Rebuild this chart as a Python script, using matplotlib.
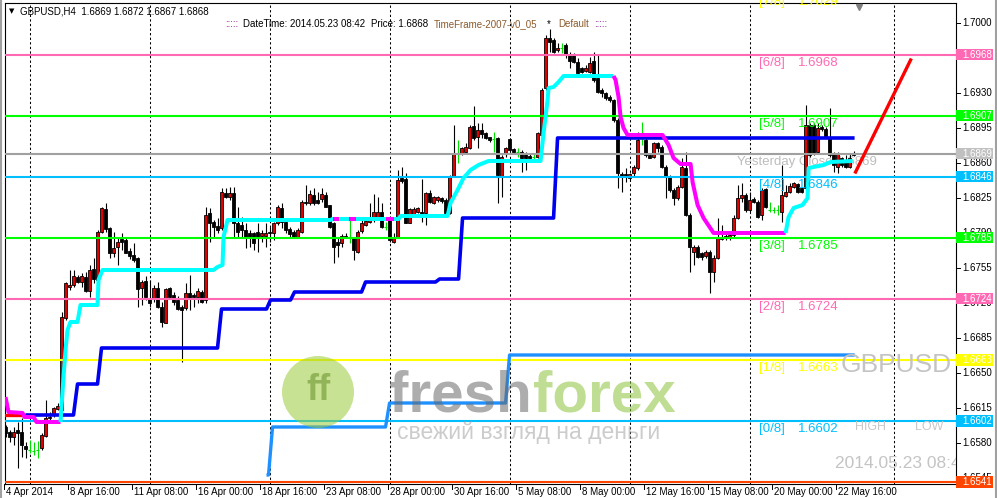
import matplotlib
matplotlib.use('Agg')
import matplotlib.pyplot as plt
from matplotlib.patches import Rectangle, Ellipse

plt.rcParams['font.family'] = ['Liberation Sans', 'DejaVu Sans']

W, H = 997, 498

# GBPUSD H4 candles (213 bars, 4 Apr - 23 May 2014)
opens = [
    1.6596, 1.6591, 1.6586, 1.6593, 1.6591, 1.6577, 1.6573, 1.6572, 1.6573, 1.6575,
    1.6587, 1.6605, 1.6608, 1.6614, 1.6613, 1.6705, 1.6736, 1.6738, 1.6746, 1.6741,
    1.6746, 1.6732, 1.6754, 1.6743, 1.6791, 1.6814, 1.6795, 1.6770, 1.6776, 1.6784,
    1.6783, 1.6772, 1.6768, 1.6765, 1.6735, 1.6742, 1.6725, 1.6725, 1.6735, 1.6716,
    1.6700, 1.6735, 1.6728, 1.6723, 1.6716, 1.6715, 1.6730, 1.6728, 1.6726, 1.6731,
    1.6723, 1.6810, 1.6801, 1.6797, 1.6795, 1.6830, 1.6826, 1.6830, 1.6800, 1.6798,
    1.6793, 1.6790, 1.6790, 1.6791, 1.6787, 1.6787, 1.6791, 1.6790, 1.6800, 1.6815,
    1.6801, 1.6794, 1.6791, 1.6786, 1.6791, 1.6821, 1.6820, 1.6828, 1.6823, 1.6824,
    1.6828, 1.6818, 1.6800, 1.6781, 1.6780, 1.6787, 1.6786, 1.6785, 1.6771, 1.6792,
    1.6798, 1.6801, 1.6803, 1.6805, 1.6811, 1.6796, 1.6803, 1.6781, 1.6786, 1.6845,
    1.6844, 1.6800, 1.6809, 1.6811, 1.6811, 1.6810, 1.6830, 1.6820, 1.6823, 1.6825,
    1.6823, 1.6810, 1.6847, 1.6870, 1.6869, 1.6871, 1.6875, 1.6897, 1.6886, 1.6893,
    1.6890, 1.6886, 1.6884, 1.6885, 1.6847, 1.6869, 1.6884, 1.6874, 1.6871, 1.6871,
    1.6870, 1.6867, 1.6866, 1.6866, 1.6888, 1.6935, 1.6985, 1.6983, 1.6973, 1.6975,
    1.6978, 1.6968, 1.6968, 1.6961, 1.6955, 1.6952, 1.6951, 1.6962, 1.6945, 1.6933,
    1.6930, 1.6926, 1.6923, 1.6903, 1.6849, 1.6849, 1.6845, 1.6850, 1.6855, 1.6888,
    1.6883, 1.6868, 1.6866, 1.6880, 1.6876, 1.6856, 1.6846, 1.6833, 1.6825, 1.6836,
    1.6855, 1.6808, 1.6771, 1.6776, 1.6770, 1.6767, 1.6771, 1.6751, 1.6765, 1.6784,
    1.6787, 1.6785, 1.6788, 1.6805, 1.6825, 1.6828, 1.6813, 1.6824, 1.6821, 1.6808,
    1.6834, 1.6813, 1.6813, 1.6813, 1.6811, 1.6827, 1.6831, 1.6836, 1.6839, 1.6835,
    1.6835, 1.6898, 1.6898, 1.6871, 1.6896, 1.6894, 1.6885, 1.6870, 1.6856, 1.6865,
    1.6863, 1.6856, 1.6869]
highs = [
    1.6598, 1.6593, 1.6596, 1.6601, 1.6605, 1.6581, 1.6583, 1.6581, 1.6582, 1.6590,
    1.6623, 1.6611, 1.6616, 1.6620, 1.6711, 1.6741, 1.6753, 1.6753, 1.6748, 1.6750,
    1.6751, 1.6758, 1.6765, 1.6793, 1.6816, 1.6820, 1.6796, 1.6791, 1.6785, 1.6790,
    1.6785, 1.6775, 1.6780, 1.6766, 1.6743, 1.6747, 1.6743, 1.6738, 1.6741, 1.6721,
    1.6735, 1.6736, 1.6731, 1.6727, 1.6718, 1.6740, 1.6748, 1.6730, 1.6735, 1.6733,
    1.6816, 1.6815, 1.6803, 1.6805, 1.6835, 1.6835, 1.6836, 1.6836, 1.6816, 1.6806,
    1.6800, 1.6793, 1.6791, 1.6800, 1.6793, 1.6800, 1.6796, 1.6801, 1.6818, 1.6820,
    1.6803, 1.6796, 1.6793, 1.6795, 1.6823, 1.6838, 1.6833, 1.6835, 1.6831, 1.6835,
    1.6831, 1.6818, 1.6801, 1.6786, 1.6789, 1.6790, 1.6803, 1.6786, 1.6793, 1.6803,
    1.6805, 1.6820, 1.6829, 1.6826, 1.6820, 1.6801, 1.6805, 1.6790, 1.6853, 1.6856,
    1.6850, 1.6815, 1.6816, 1.6816, 1.6844, 1.6831, 1.6833, 1.6827, 1.6827, 1.6826,
    1.6825, 1.6848, 1.6898, 1.6883, 1.6876, 1.6880, 1.6898, 1.6917, 1.6900, 1.6900,
    1.6891, 1.6886, 1.6891, 1.6886, 1.6868, 1.6876, 1.6885, 1.6875, 1.6875, 1.6873,
    1.6871, 1.6869, 1.6869, 1.6891, 1.6935, 1.6988, 1.6994, 1.6985, 1.6980, 1.6980,
    1.6980, 1.6971, 1.6970, 1.6965, 1.6956, 1.6958, 1.6966, 1.6971, 1.6968, 1.6935,
    1.6931, 1.6928, 1.6924, 1.6905, 1.6851, 1.6855, 1.6850, 1.6858, 1.6891, 1.6901,
    1.6885, 1.6870, 1.6881, 1.6881, 1.6878, 1.6858, 1.6848, 1.6835, 1.6838, 1.6865,
    1.6871, 1.6810, 1.6778, 1.6778, 1.6771, 1.6773, 1.6773, 1.6768, 1.6805, 1.6798,
    1.6790, 1.6790, 1.6808, 1.6838, 1.6840, 1.6830, 1.6831, 1.6826, 1.6823, 1.6835,
    1.6835, 1.6821, 1.6816, 1.6818, 1.6858, 1.6838, 1.6840, 1.6841, 1.6840, 1.6836,
    1.6918, 1.6900, 1.6900, 1.6900, 1.6898, 1.6896, 1.6915, 1.6871, 1.6871, 1.6866,
    1.6868, 1.6870, 1.6872]
lows = [
    1.6586, 1.6581, 1.6578, 1.6555, 1.6566, 1.6565, 1.6570, 1.6568, 1.6565, 1.6573,
    1.6586, 1.6603, 1.6606, 1.6613, 1.6611, 1.6703, 1.6733, 1.6736, 1.6740, 1.6736,
    1.6731, 1.6726, 1.6740, 1.6730, 1.6790, 1.6791, 1.6765, 1.6766, 1.6758, 1.6773,
    1.6770, 1.6764, 1.6761, 1.6716, 1.6718, 1.6723, 1.6716, 1.6721, 1.6715, 1.6696,
    1.6700, 1.6725, 1.6718, 1.6713, 1.6661, 1.6713, 1.6713, 1.6716, 1.6720, 1.6720,
    1.6720, 1.6781, 1.6786, 1.6790, 1.6793, 1.6825, 1.6823, 1.6786, 1.6786, 1.6786,
    1.6775, 1.6776, 1.6773, 1.6771, 1.6781, 1.6776, 1.6781, 1.6783, 1.6798, 1.6795,
    1.6790, 1.6786, 1.6785, 1.6785, 1.6790, 1.6818, 1.6818, 1.6818, 1.6819, 1.6821,
    1.6816, 1.6795, 1.6760, 1.6766, 1.6776, 1.6785, 1.6780, 1.6763, 1.6770, 1.6790,
    1.6797, 1.6800, 1.6801, 1.6803, 1.6795, 1.6793, 1.6781, 1.6780, 1.6785, 1.6840,
    1.6800, 1.6800, 1.6807, 1.6810, 1.6801, 1.6798, 1.6820, 1.6819, 1.6821, 1.6820,
    1.6809, 1.6809, 1.6846, 1.6860, 1.6868, 1.6870, 1.6874, 1.6883, 1.6875, 1.6885,
    1.6884, 1.6881, 1.6871, 1.6820, 1.6826, 1.6866, 1.6871, 1.6870, 1.6866, 1.6851,
    1.6853, 1.6863, 1.6861, 1.6865, 1.6886, 1.6933, 1.6971, 1.6970, 1.6971, 1.6970,
    1.6965, 1.6955, 1.6960, 1.6948, 1.6950, 1.6951, 1.6950, 1.6941, 1.6930, 1.6926,
    1.6923, 1.6921, 1.6901, 1.6835, 1.6831, 1.6841, 1.6843, 1.6846, 1.6853, 1.6878,
    1.6866, 1.6865, 1.6865, 1.6871, 1.6855, 1.6825, 1.6831, 1.6818, 1.6823, 1.6835,
    1.6807, 1.6751, 1.6758, 1.6765, 1.6763, 1.6765, 1.6730, 1.6741, 1.6764, 1.6783,
    1.6783, 1.6783, 1.6785, 1.6804, 1.6821, 1.6811, 1.6811, 1.6820, 1.6805, 1.6803,
    1.6815, 1.6811, 1.6810, 1.6808, 1.6801, 1.6826, 1.6830, 1.6835, 1.6830, 1.6830,
    1.6833, 1.6866, 1.6868, 1.6870, 1.6892, 1.6885, 1.6866, 1.6851, 1.6850, 1.6856,
    1.6855, 1.6855, 1.6867]
closes = [
    1.6590, 1.6586, 1.6591, 1.6590, 1.6578, 1.6574, 1.6573, 1.6572, 1.6573, 1.6588,
    1.6605, 1.6606, 1.6615, 1.6617, 1.6706, 1.6740, 1.6738, 1.6747, 1.6741, 1.6747,
    1.6732, 1.6753, 1.6744, 1.6791, 1.6815, 1.6794, 1.6770, 1.6775, 1.6781, 1.6781,
    1.6770, 1.6767, 1.6763, 1.6734, 1.6741, 1.6726, 1.6720, 1.6735, 1.6716, 1.6701,
    1.6734, 1.6726, 1.6721, 1.6714, 1.6713, 1.6730, 1.6725, 1.6726, 1.6732, 1.6721,
    1.6808, 1.6800, 1.6796, 1.6793, 1.6831, 1.6826, 1.6830, 1.6800, 1.6791, 1.6793,
    1.6786, 1.6785, 1.6780, 1.6786, 1.6790, 1.6790, 1.6790, 1.6800, 1.6816, 1.6801,
    1.6793, 1.6789, 1.6786, 1.6793, 1.6821, 1.6820, 1.6829, 1.6820, 1.6820, 1.6829,
    1.6816, 1.6796, 1.6776, 1.6778, 1.6787, 1.6786, 1.6786, 1.6773, 1.6791, 1.6800,
    1.6802, 1.6805, 1.6811, 1.6811, 1.6796, 1.6796, 1.6783, 1.6786, 1.6843, 1.6842,
    1.6800, 1.6814, 1.6814, 1.6815, 1.6806, 1.6830, 1.6821, 1.6826, 1.6826, 1.6822,
    1.6810, 1.6847, 1.6870, 1.6870, 1.6875, 1.6876, 1.6896, 1.6885, 1.6893, 1.6889,
    1.6885, 1.6883, 1.6884, 1.6848, 1.6866, 1.6875, 1.6873, 1.6871, 1.6871, 1.6865,
    1.6865, 1.6865, 1.6866, 1.6890, 1.6933, 1.6985, 1.6981, 1.6971, 1.6975, 1.6975,
    1.6968, 1.6962, 1.6961, 1.6950, 1.6951, 1.6955, 1.6960, 1.6943, 1.6931, 1.6930,
    1.6925, 1.6923, 1.6903, 1.6850, 1.6846, 1.6846, 1.6849, 1.6856, 1.6883, 1.6888,
    1.6868, 1.6865, 1.6880, 1.6875, 1.6856, 1.6846, 1.6833, 1.6825, 1.6836, 1.6856,
    1.6808, 1.6776, 1.6776, 1.6766, 1.6766, 1.6771, 1.6751, 1.6765, 1.6785, 1.6786,
    1.6785, 1.6788, 1.6805, 1.6825, 1.6828, 1.6813, 1.6823, 1.6821, 1.6806, 1.6833,
    1.6816, 1.6813, 1.6813, 1.6813, 1.6828, 1.6831, 1.6837, 1.6840, 1.6831, 1.6831,
    1.6898, 1.6868, 1.6870, 1.6895, 1.6894, 1.6886, 1.6868, 1.6858, 1.6870, 1.6858,
    1.6856, 1.6865, 1.6868]

# Murrey math levels
level_names = ['[-1/8]', '[0/8]', '[1/8]', '[2/8]', '[3/8]', '[4/8]', '[5/8]', '[6/8]', '[7/8]']
level_values = [1.6541, 1.6602, 1.6663, 1.6724, 1.6785, 1.6846, 1.6907, 1.6968, 1.7029]
level_colors = ['#FF4500', '#00BFFF', '#FFFF00', '#FF69B4', '#00FF00',
                '#00BFFF', '#00FF00', '#FF69B4', '#FFFF00']
yesterday_close = 1.6869

# trend line (cyan = up, magenta = down), vertices as (bar, price)
down1_bars = [0, 0.75, 4.25, 4.75, 7, 7.75, 13.25, 13.75]
down1_vals = [1.6626, 1.6611, 1.6610, 1.6606, 1.6606, 1.6601, 1.6601, 1.6601]
up1_bars = [13.75, 14.5, 15, 15.5, 16.25, 18, 18.75, 23, 23.25, 24.25, 52, 53, 54.25, 54.5,
            55.5, 81.25, 81.75, 98.25, 98.75, 110.5, 111.25, 113, 114.5, 116.25, 118.25,
            120.75, 133.75, 134.5, 135.5, 135.75, 137, 138.25, 139.5, 152]
up1_vals = [1.6601, 1.6646, 1.6673, 1.6693, 1.6701, 1.6701, 1.6718, 1.6718, 1.6743, 1.6753,
            1.6753, 1.6756, 1.6758, 1.6786, 1.6803, 1.6803, 1.6804, 1.6804, 1.6807, 1.6807,
            1.6820, 1.6833, 1.6845, 1.6853, 1.6858, 1.6862, 1.6862, 1.6890, 1.6923, 1.6935,
            1.6936, 1.6941, 1.6947, 1.6947]
down2_bars = [152, 152.5, 153.25, 153.75, 154.5, 155.5, 164.25, 165.75, 167, 168.75,
              171.25, 171.75, 173, 174.5, 177, 195]
down2_vals = [1.6947, 1.6943, 1.6926, 1.6906, 1.6895, 1.6888, 1.6888, 1.6878, 1.6865, 1.6859,
              1.6859, 1.6841, 1.6818, 1.6805, 1.6790, 1.6790]
up2_bars = [195, 195.75, 197, 199.25, 200.5, 200.75, 202, 204.5, 206.25, 211.75]
up2_vals = [1.6790, 1.6806, 1.6815, 1.6818, 1.6825, 1.6855, 1.6856, 1.6858, 1.6861, 1.6862]
flicker_spans = [(81.75, 83.25), (85.75, 87.5), (95, 97)]
flicker_val = 1.6804

# stepped support lines: ramp start bar and new level
red_start = (0, 5, 1.6608)
blue_bars = [5, 17, 23, 53, 65.25, 71.25, 89, 107.5, 113.25, 137]
blue_vals = [1.6608, 1.6639, 1.6675, 1.6714, 1.6723, 1.6731, 1.6741, 1.6744, 1.6805, 1.6885]
dodger_bars = [65.25, 65.75, 95, 125]
dodger_vals = [1.6548, 1.6596, 1.6620, 1.6668]
lines_end = 212.25

arrow_bars = [212.5, 226.25]
arrow_vals = [1.6851, 1.6963]

x_label_bars = [0, 16, 32, 48, 64, 80, 96, 112, 128, 144, 160, 176, 192, 208]
x_labels = ['4 Apr 2014', '8 Apr 16:00', '11 Apr 08:00', '16 Apr 00:00', '18 Apr 16:00',
            '23 Apr 08:00', '28 Apr 00:00', '30 Apr 16:00', '5 May 08:00', '8 May 00:00',
            '12 May 16:00', '15 May 08:00', '20 May 00:00', '22 May 16:00']
grid_bars = [6, 36, 66, 96, 126, 156, 186, 222]
# 1.6965 sits fully under the 1.6968 level box, so it is left out
price_ticks = [1.7000, 1.6930, 1.6895, 1.6860, 1.6825, 1.6790, 1.6755, 1.6720,
               1.6685, 1.6650, 1.6615, 1.6580, 1.6545]


def fx(px):
    return px / W


def fy(py):
    return 1 - py / H


def ramp_steps(bars, vals, end):
    xs, ys = [bars[0]], [vals[0]]
    for i in range(1, len(bars)):
        xs += [bars[i], bars[i] + 1]
        ys += [vals[i - 1], vals[i]]
    xs.append(end)
    ys.append(vals[-1])
    return xs, ys


fig = plt.figure(figsize=(W / 100, H / 100), dpi=100)
fig.patch.set_facecolor('white')
ax = fig.add_axes([fx(5), fy(484), 951 / W, 481 / H])
ax.set_xlim(-0.125, 237.6)
ax.set_ylim(1.6539, 1.7020)
ax.set_xticks([])
ax.set_yticks([])
for s in ax.spines.values():
    s.set_linewidth(0.8)
    s.set_color('black')

# vertical dotted grid
for b in grid_bars:
    ax.axvline(b, color='black', lw=0.75, ls=(0, (2.2, 2.2)), zorder=1)

# watermark
fig.patches.append(Ellipse((fx(318), fy(392)), 72 / W, 72 / H, transform=fig.transFigure,
                           fc='#9CCB3B', ec='none', alpha=0.55, zorder=0))
fig.text(fx(318), fy(390), 'ff', color='#4E7D12', alpha=0.45, fontsize=26,
         fontweight='bold', ha='center', va='center', zorder=0.5)
fig.text(fx(389), fy(396), 'fresh', color='#6A6A6A', alpha=0.55, fontsize=42,
         fontweight='bold', ha='left', va='center', zorder=0.5)
fig.text(fx(533), fy(396), 'forex', color='#8CC43C', alpha=0.55, fontsize=42,
         fontweight='bold', ha='left', va='center', zorder=0.5)
fig.text(fx(397), fy(432), 'свежий взгляд на деньги', color='#9A9A9A', alpha=0.5,
         fontsize=16.5, ha='left', va='center', zorder=0.5)

# levels
for val, col in zip(level_values, level_colors):
    ax.axhline(val, color=col, lw=1.5, zorder=3)
ax.axhline(yesterday_close, color='#A0A0A0', lw=1.5, zorder=3)

# candles
for i in range(len(opens)):
    o, h, l, c = opens[i], highs[i], lows[i], closes[i]
    if o == c:
        ax.vlines(i, l, h, color='#00E000', lw=0.8, zorder=2)
        ax.hlines(c, i - 0.45, i + 0.45, color='#00E000', lw=0.8, zorder=2)
        continue
    ax.vlines(i, l, h, color='black', lw=0.8, zorder=2)
    fc = '#E00000' if c > o else 'black'
    ax.add_patch(Rectangle((i - 0.38, min(o, c)), 0.76, abs(c - o), fc=fc, ec='black',
                           lw=0.6, zorder=2.5))

# stepped lines
ax.plot([red_start[0], red_start[1]], [red_start[2], red_start[2]], color='#FF0000',
        lw=2.4, zorder=4)
bx, by = ramp_steps(blue_bars, blue_vals, lines_end)
ax.plot(bx, by, color='#0000F0', lw=2.6, zorder=4, solid_capstyle='butt')
dx, dy = ramp_steps(dodger_bars, dodger_vals, lines_end)
ax.plot(dx, dy, color='#1E90FF', lw=2.4, zorder=4, solid_capstyle='butt')

# trend line
for bars, vals, col in [(down1_bars, down1_vals, '#FF00FF'), (up1_bars, up1_vals, '#00FFFF'),
                        (down2_bars, down2_vals, '#FF00FF'), (up2_bars, up2_vals, '#00FFFF')]:
    ax.plot(bars, vals, color=col, lw=2.9, zorder=4.5, solid_capstyle='butt')
for a, b in flicker_spans:
    ax.plot([a, b], [flicker_val, flicker_val], color='#FF00FF', lw=2.9, zorder=4.6,
            solid_capstyle='butt')

# red arrow line
ax.plot(arrow_bars, arrow_vals, color='#FF0000', lw=2.4, zorder=4)
ax.plot([213.25], [1.7016], marker='v', color='#7F7F7F', ms=5, zorder=5, clip_on=False)

# level captions
for name, val, col in zip(level_names[1:], level_values[1:], level_colors[1:]):
    ax.text(188.4, val - 0.0008, name, color=col, fontsize=9.5, va='center', zorder=6)
    ax.text(198.1, val - 0.0008, '%.4f' % val, color=col, fontsize=9.5, va='center', zorder=6)
ax.text(182.9, yesterday_close - 0.0008, 'Yesterday Close %.4f' % yesterday_close,
        color='#BDBDBD', fontsize=9.5, va='center', zorder=1.5)

ax.text(fx(841), fy(365), 'GBPUSD', transform=fig.transFigure, color='#C4C4C4',
        fontsize=19, va='center', ha='left', zorder=6)
ax.text(fx(855), fy(427), 'HIGH', transform=fig.transFigure, color='#C8C8C8',
        fontsize=9, va='center', zorder=6)
ax.text(fx(915), fy(427), 'LOW', transform=fig.transFigure, color='#C8C8C8',
        fontsize=9, va='center', zorder=6)
ax.text(fx(835), fy(463), '2014.05.23 08:42', transform=fig.transFigure, color='#C4C4C4',
        fontsize=12.5, va='center', ha='left', zorder=6, clip_on=True)

# price axis
ytr = ax.get_yaxis_transform()
for p in price_ticks:
    ax.plot([1, 1 + 4 / 951], [p, p], color='black', lw=0.7, transform=ytr, clip_on=False)
    ax.text(1 + 6 / 951, p, '%.4f' % p, transform=ytr, fontsize=7, va='center', ha='left',
            clip_on=False)
box_vals = level_values[:-1] + [yesterday_close]
box_cols = level_colors[:-1] + ['#C0C0C0']
for val, col in zip(box_vals, box_cols):
    ax.add_patch(Rectangle((1, val - 0.00055), 37 / 951, 0.0011, transform=ytr, fc=col,
                           ec='none', clip_on=False, zorder=8))
    ax.text(1 + 6 / 951, val, '%.4f' % val, transform=ytr, fontsize=7, va='center',
            ha='left', color='white', clip_on=False, zorder=9)

# time axis
xtr = ax.get_xaxis_transform()
for b, lab in zip(x_label_bars, x_labels):
    ax.plot([b - 0.4, b - 0.4], [0, -5 / 481], color='black', lw=0.7, transform=xtr,
            clip_on=False)
    ax.text(b, -8 / 481, lab, transform=xtr, fontsize=7, va='center', ha='left',
            clip_on=False)

# header texts
fig.text(fx(9), fy(11), '\u25bc', fontsize=5, family='DejaVu Sans', va='center')
fig.text(fx(20), fy(12), 'GBPUSD,H4  1.6869 1.6872 1.6867 1.6868', fontsize=7, va='center')
header = [(225, ':::::', '#800080'), (243, 'DateTime: 2014.05.23 08:42', 'black'),
          (371, 'Price: 1.6868', 'black'), (434, 'TimeFrame-2007-v0_05', '#8B5A2B'),
          (547, '*', 'black'), (558, 'Default', '#8B5A2B'), (594, ':::::', '#800080')]
for px, txt, col in header:
    fig.text(fx(px), fy(24), txt, fontsize=7, color=col, va='center')

# window frame
fig.add_artist(plt.Line2D([fx(1), fx(1)], [0, 1], color='#A0A0A0', lw=1.5))
fig.add_artist(plt.Line2D([fx(995.5), fx(995.5)], [0, 1], color='#A0A0A0', lw=1.5))

fig.savefig('out.png', dpi=100)
